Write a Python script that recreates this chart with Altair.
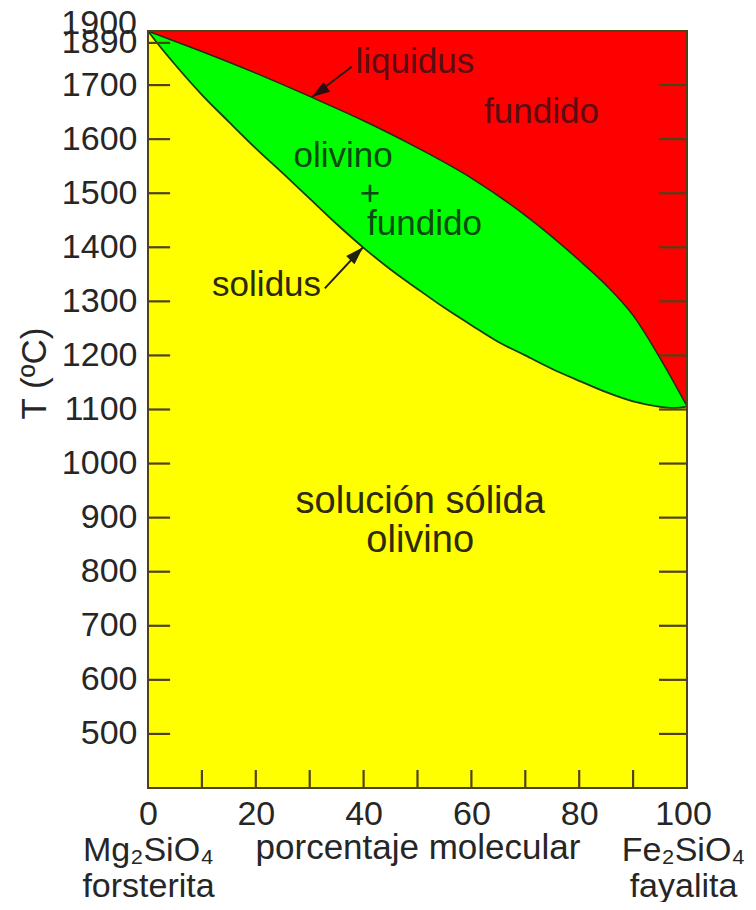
import altair as alt
import pandas as pd

FONT = "Liberation Sans"
TXT = "#262626"
AXC = "#4f4218"
NB = "\u00a0"

# ---- data ----
comp_liq = [0, 10, 20, 30, 40, 50, 60, 70, 80, 85, 90, 95, 100]
temp_liq = [1800, 1762, 1722, 1679, 1634, 1584, 1528, 1459, 1376, 1330, 1274, 1195, 1106]

comp_sol = [0, 2, 5, 10, 15, 20, 25, 30, 35, 40, 45, 50, 55, 60, 65, 70, 75, 80, 85, 90, 95, 97, 99, 100]
temp_sol = [1800, 1774, 1738, 1682, 1632, 1583, 1537, 1490, 1443, 1399, 1359, 1323, 1288, 1256, 1225,
            1200, 1175, 1153, 1132, 1115, 1105, 1103, 1104, 1106]

y_tick_values = [500, 600, 700, 800, 900, 1000, 1100, 1200, 1300, 1400, 1500, 1600, 1700]
y_top_tick = 1778          # tick labelled "1890" in the original
y_top_tick_label = "1890"
y_extra_label = "1900"
x_label_values = [0, 20, 40, 60, 80, 100]
x_minor_ticks = [10, 20, 30, 40, 50, 60, 70, 80, 90]
x_end_labels = {0: ["0", NB + NB + "Mg₂SiO₄", NB + "forsterita"],
                100: ["100", "Fe₂SiO₄", "fayalita"]}

ann_text = ["liquidus", "fundido", "olivino", "+", "fundido", "solidus", "solución sólida", "olivino"]
ann_x = [49.5, 73.0, 36.2, 41.2, 51.3, 22.0, 50.5, 50.5]
ann_T = [1722, 1630, 1548, 1479, 1423, 1309, 908, 837]
ann_color = ["#5a0d12", "#5a0d12", "#0b4a12", "#0b4a12", "#0b4a12", "#2a2810", "#2e2a0c", "#2e2a0c"]
ann_size = [35, 35, 35, 35, 35, 35, 38, 38]

arrow_from_x = [37.8, 32.8]
arrow_from_T = [1734, 1324]
arrow_to_x = [30.4, 39.9]
arrow_to_T = [1678, 1400]

XMIN, XMAX = 0, 100
TMIN, TMAX = 400, 1800

# ---- tables ----
liq = pd.DataFrame({"x": comp_liq, "T": temp_liq})
sol = pd.DataFrame({"x": comp_sol, "T": temp_sol})
frame = pd.DataFrame({"x": [XMIN], "x2": [XMAX], "T": [TMIN], "T2": [TMAX]})
ann = pd.DataFrame({"text": ann_text, "x": ann_x, "T": ann_T, "color": ann_color, "size": ann_size})
arrows = pd.DataFrame({"x": arrow_from_x, "T": arrow_from_T, "x2": arrow_to_x, "T2": arrow_to_T})

left_len = 4.1     # in x units (~22 px)
right_len = 5.2    # ~28 px
bottom_len = 33.3  # in T units (~18 px)
yt = y_tick_values + [y_top_tick]
left_ticks = pd.DataFrame({"x": [XMIN] * len(yt), "x2": [XMIN + left_len] * len(yt), "T": yt, "T2": yt})
right_ticks = pd.DataFrame({"x": [XMAX - right_len] * len(y_tick_values), "x2": [XMAX] * len(y_tick_values),
                            "T": y_tick_values, "T2": y_tick_values})
bottom_ticks = pd.DataFrame({"x": x_minor_ticks, "x2": x_minor_ticks,
                             "T": [TMIN] * len(x_minor_ticks), "T2": [TMIN + bottom_len] * len(x_minor_ticks)})

xs = alt.Scale(domain=[XMIN, XMAX], nice=False, zero=False)
ys = alt.Scale(domain=[TMIN, TMAX], nice=False, zero=False)

def js_arr(lst):
    return "[" + ", ".join("'" + s + "'" for s in lst) + "]"

x_expr = ("datum.value == 0 ? " + js_arr(x_end_labels[0]) +
          " : datum.value == 100 ? " + js_arr(x_end_labels[100]) + " : datum.label")

X_AXIS = alt.Axis(values=x_label_values, labelExpr=x_expr, ticks=False, tickSize=0, domain=False, grid=False,
                  labelFontSize=34, labelFont=FONT, labelColor=TXT, labelPadding=9, labelLineHeight=36,
                  labelOverlap=False, labelBound=False, labelFlush=False,
                  labelOffset={"condition": {"test": "datum.value == 100", "value": -4}, "value": 0},
                  title="porcentaje molecular", titleFont=FONT, titleFontSize=35, titleFontWeight="normal",
                  titleColor=TXT, titleY=70, titleBaseline="alphabetic")
Y_AXIS = alt.Axis(values=yt, labelExpr="datum.value > 1750 ? '" + y_top_tick_label + "' : format(datum.value, 'd')",
                  ticks=False, tickSize=0, domain=False, grid=False,
                  labelFontSize=34, labelFont=FONT, labelColor=TXT, labelPadding=11,
                  labelOverlap=False, labelBound=False, labelFlush=False,
                  title="T (ºC)", titleFont=FONT, titleFontSize=35, titleFontWeight="normal", titleColor=TXT,
                  titleX=-103, titleY=342, titleAngle=270, titleBaseline="alphabetic", titleAlign="center")

def X(f="x"):
    return alt.X(f + ":Q", scale=xs, axis=X_AXIS)

def Y(f="T"):
    return alt.Y(f + ":Q", scale=ys, axis=Y_AXIS)

red = alt.Chart(frame).mark_rect(color="#ff0000").encode(x=X(), x2="x2:Q", y=Y(), y2="T2:Q")
green = alt.Chart(liq).mark_area(color="#00ff00", interpolate="monotone").encode(x=X(), y=Y(), y2=alt.datum(TMIN))
yellow = alt.Chart(sol).mark_area(color="#ffff00", interpolate="monotone").encode(x=X(), y=Y(), y2=alt.datum(TMIN))
liq_line = alt.Chart(liq).mark_line(color="#2a2a12", strokeWidth=1.5, interpolate="monotone").encode(x=X(), y=Y())
sol_line = alt.Chart(sol).mark_line(color="#17400f", strokeWidth=1.8, interpolate="monotone").encode(x=X(), y=Y())

def tick_layer(df):
    return alt.Chart(df).mark_rule(color=AXC, strokeWidth=2.2).encode(x=X(), x2="x2:Q", y=Y(), y2="T2:Q")

border = alt.Chart(frame).mark_rect(filled=False, stroke=AXC, strokeWidth=2, fill=None).encode(
    x=X(), x2="x2:Q", y=Y(), y2="T2:Q")

labels = alt.Chart(ann).mark_text(font=FONT, align="center", baseline="alphabetic").encode(
    x=X(), y=Y(), text="text:N", color=alt.Color("color:N", scale=None), size=alt.Size("size:Q", scale=None))

extra = alt.Chart(pd.DataFrame({"x": [XMIN], "T": [1794], "text": [y_extra_label]})).mark_text(
    font=FONT, fontSize=34, align="right", baseline="alphabetic", dx=-11, color=TXT).encode(
    x=X(), y=Y(), text="text:N")

arrow_lines = alt.Chart(arrows).mark_rule(color="#2a1a12", strokeWidth=2).encode(
    x=X(), x2="x2:Q", y=Y(), y2="T2:Q")

head_shape = "M0,0L0.65,2L-0.65,2Z"
head1 = alt.Chart(arrows.iloc[[0]]).mark_point(shape=head_shape, filled=True, size=324, angle=236,
                                               color="#2a0d12", opacity=1).encode(x=X("x2"), y=Y("T2"))
head2 = alt.Chart(arrows.iloc[[1]]).mark_point(shape=head_shape, filled=True, size=324, angle=45,
                                               color="#22200f", opacity=1).encode(x=X("x2"), y=Y("T2"))

chart = alt.layer(
    red, green, yellow, liq_line, sol_line,
    tick_layer(left_ticks), tick_layer(right_ticks), tick_layer(bottom_ticks),
    border, labels, extra, arrow_lines, head1, head2
).properties(
    width=539, height=757, autosize="none",
    padding={"left": 140, "top": 23, "right": 61, "bottom": 114},
    background="white"
).configure_view(stroke=None)

chart.save("out.html", embed_options={"renderer": "svg", "actions": False})
